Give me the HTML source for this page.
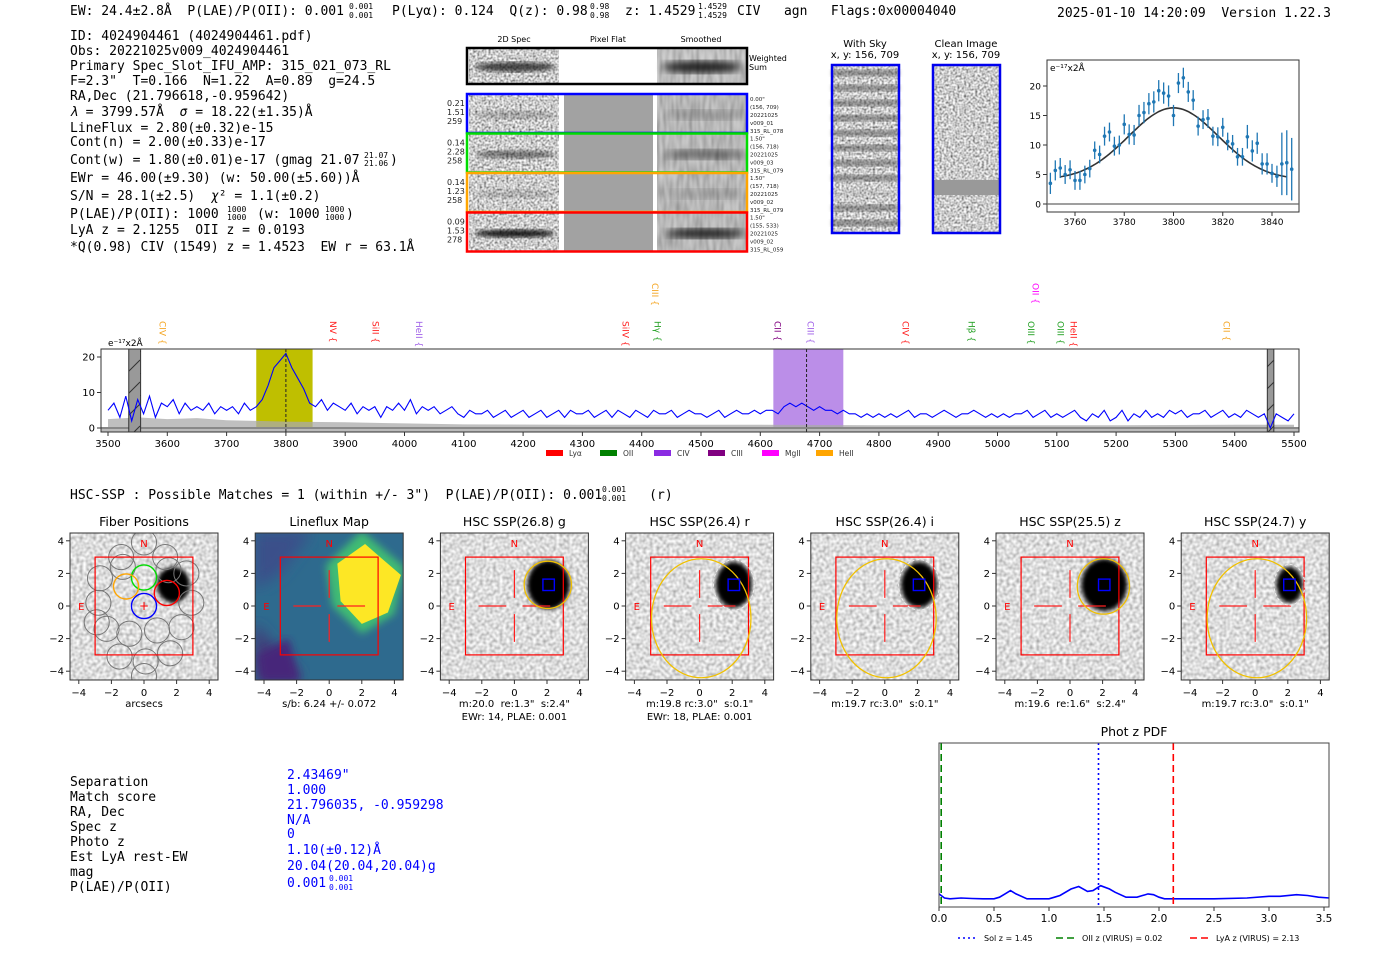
<!DOCTYPE html>
<html><head><meta charset="utf-8">
<style>
html,body{margin:0;padding:0;background:#fff;}
svg{display:block;}
.m{font-family:"DejaVu Sans Mono","Liberation Mono",monospace;font-size:13px;fill:#000;white-space:pre;}
.m.sm{font-size:8px;}
.s{font-family:"DejaVu Sans","Liberation Sans",sans-serif;}
</style></head>
<body>
<svg id="root" width="1400" height="953" viewBox="0 0 1400 953" xmlns="http://www.w3.org/2000/svg" xml:space="preserve">
<defs>
<filter id="nzA" x="0" y="0" width="100%" height="100%"><feTurbulence type="fractalNoise" baseFrequency="0.45" numOctaves="1" seed="4"/><feColorMatrix type="matrix" values="1.6 0 0 0 -0.2  1.6 0 0 0 -0.2  1.6 0 0 0 -0.2  0 0 0 0 1"/></filter>
<filter id="nzB" x="0" y="0" width="100%" height="100%"><feTurbulence type="fractalNoise" baseFrequency="0.3" numOctaves="1" seed="9"/><feColorMatrix type="matrix" values="1.0 0 0 0 0.22  1.0 0 0 0 0.22  1.0 0 0 0 0.22  0 0 0 0 1"/></filter>
<filter id="nzC" x="0" y="0" width="100%" height="100%"><feTurbulence type="fractalNoise" baseFrequency="0.3 0.06" numOctaves="1" seed="2"/><feColorMatrix type="matrix" values="1.0 0 0 0 0.05  1.0 0 0 0 0.05  1.0 0 0 0 0.05  0 0 0 0 1"/></filter>
<filter id="bl4"><feGaussianBlur stdDeviation="4"/></filter>
<filter id="bl2"><feGaussianBlur stdDeviation="2"/></filter>
<filter id="bl8"><feGaussianBlur stdDeviation="7"/></filter>
<pattern id="hatch" width="14" height="22" patternUnits="userSpaceOnUse"><rect width="14" height="22" fill="#999"/><line x1="0" y1="22" x2="14" y2="8" stroke="#333" stroke-width="1"/></pattern>
</defs>

<g>
<text class="m" x="70" y="15">EW: 24.4±2.8Å  P(LAE)/P(OII): 0.001</text>
<text class="m sm" x="349" y="9">0.001</text><text class="m sm" x="349" y="18">0.001</text>
<text class="m" x="392" y="15">P(Lyα): 0.124  Q(z): 0.98</text>
<text class="m sm" x="590" y="9">0.98</text><text class="m sm" x="590" y="18">0.98</text>
<text class="m" x="625" y="15">z: 1.4529</text>
<text class="m sm" x="698" y="9">1.4529</text><text class="m sm" x="698" y="18">1.4529</text>
<text class="m" x="737" y="15">CIV   agn   Flags:0x00004040</text>
<text class="m" x="1057" y="17">2025-01-10 14:20:09  Version 1.22.3</text>
</g>

<g>
<text class="m" x="70" y="40">ID: 4024904461 (4024904461.pdf)</text>
<text class="m" x="70" y="55">Obs: 20221025v009_4024904461</text>
<text class="m" x="70" y="70">Primary Spec_Slot_IFU_AMP: 315_021_073_RL</text>
<text class="m" x="70" y="85">F=2.3"  T=0.166  N=1.22  A=0.89  g=24.5</text>
<text class="m" x="70" y="100">RA,Dec (21.796618,-0.959642)</text>
<text class="m" x="70" y="116"><tspan font-style="italic">λ</tspan> = 3799.57Å  <tspan font-style="italic">σ</tspan> = 18.22(±1.35)Å</text>
<text class="m" x="70" y="132">LineFlux = 2.80(±0.32)e-15</text>
<text class="m" x="70" y="146">Cont(n) = 2.00(±0.33)e-17</text>
<text class="m" x="70" y="164">Cont(w) = 1.80(±0.01)e-17 (gmag 21.07</text>
<text class="m sm" x="364" y="158">21.07</text><text class="m sm" x="364" y="166">21.06</text><text class="m" x="390" y="164">)</text>
<text class="m" x="70" y="182">EWr = 46.00(±9.30) (w: 50.00(±5.60))Å</text>
<text class="m" x="70" y="200">S/N = 28.1(±2.5)  <tspan font-style="italic">χ</tspan>² = 1.1(±0.2)</text>
<text class="m" x="70" y="218">P(LAE)/P(OII): 1000</text>
<text class="m sm" x="227" y="212">1000</text><text class="m sm" x="227" y="220">1000</text>
<text class="m" x="257" y="218">(w: 1000</text>
<text class="m sm" x="325" y="212">1000</text><text class="m sm" x="325" y="220">1000</text>
<text class="m" x="346" y="218">)</text>
<text class="m" x="70" y="234">LyA z = 2.1255  OII z = 0.0193</text>
<text class="m" x="70" y="251">*Q(0.98) CIV (1549) z = 1.4523  EW r = 63.1Å</text>
</g>

<g class="s" font-size="8">
<text x="514" y="42" text-anchor="middle">2D Spec</text>
<text x="608" y="42" text-anchor="middle">Pixel Flat</text>
<text x="701" y="42" text-anchor="middle">Smoothed</text>
<g>
<rect x="469" y="49" width="90" height="34" fill="#aaa" filter="url(#nzA)"/>
<ellipse cx="515" cy="67" rx="40" ry="5" fill="#111" opacity="0.7" filter="url(#bl2)"/>
<rect x="657" y="49" width="89" height="34" fill="#999" filter="url(#nzC)"/>
<rect x="657" y="49" width="89" height="34" fill="#b8b8b8" opacity="0.5"/>
<ellipse cx="702" cy="67" rx="40" ry="6" fill="#000" opacity="0.85" filter="url(#bl4)"/>
<rect x="467" y="48" width="280" height="36" fill="none" stroke="#000" stroke-width="2.5"/>
<text x="749" y="61">Weighted</text><text x="749" y="70">Sum</text>
</g>
</g>
<g id="rows"></g>

<g class="s">
<text x="865" y="47" text-anchor="middle" font-size="10">With Sky</text>
<text x="865" y="58" text-anchor="middle" font-size="10">x, y: 156, 709</text>
<rect x="832" y="65" width="67" height="168" fill="#bbb" filter="url(#nzA)"/>
<g id="skybands"></g>
<rect x="832" y="65" width="67" height="168" fill="none" stroke="#0000ee" stroke-width="2.5"/>
</g>
<g class="s">
<text x="966" y="47" text-anchor="middle" font-size="10">Clean Image</text>
<text x="966" y="58" text-anchor="middle" font-size="10">x, y: 156, 709</text>
<rect x="933" y="65" width="67" height="168" fill="#999" filter="url(#nzA)"/>
<rect x="933" y="180" width="67" height="15" fill="#999"/>
<rect x="933" y="65" width="67" height="168" fill="none" stroke="#0000ee" stroke-width="2.5"/>
</g>

<g id="mini"></g>
<g id="spec"></g>

<text class="m" x="70" y="499">HSC-SSP : Possible Matches = 1 (within +/- 3")  P(LAE)/P(OII): 0.001      (r)</text>
<text class="m sm" x="602" y="492">0.001</text><text class="m sm" x="602" y="501">0.001</text>

<g id="cut"></g>

<g>
<text class="m" x="70" y="786">Separation</text>
<text class="m" x="70" y="801">Match score</text>
<text class="m" x="70" y="816">RA, Dec</text>
<text class="m" x="70" y="831">Spec z</text>
<text class="m" x="70" y="846">Photo z</text>
<text class="m" x="70" y="861">Est LyA rest-EW</text>
<text class="m" x="70" y="876">mag</text>
<text class="m" x="70" y="891">P(LAE)/P(OII)</text>
<text class="m" style="fill:#0000ff" x="287" y="779">2.43469"</text>
<text class="m" style="fill:#0000ff" x="287" y="794">1.000</text>
<text class="m" style="fill:#0000ff" x="287" y="809">21.796035, -0.959298</text>
<text class="m" style="fill:#0000ff" x="287" y="824">N/A</text>
<text class="m" style="fill:#0000ff" x="287" y="838">0</text>
<text class="m" style="fill:#0000ff" x="287" y="854">1.10(±0.12)Å</text>
<text class="m" style="fill:#0000ff" x="287" y="870">20.04(20.04,20.04)g</text>
<text class="m" style="fill:#0000ff" x="287" y="887">0.001</text>
<text class="m sm" style="fill:#0000ff" x="329" y="881">0.001</text>
<text class="m sm" style="fill:#0000ff" x="329" y="890">0.001</text>
</g>

<g id="pdf"></g>
</svg>

<script>
// ---------- data ----------
const specWave0 = 3500, specStep = 10;
const specFlux = [5,7,3,9,2,8,4,9,3,7, 6,8,4,7,5,6,5,7,4,6, 5,6,4,7,5,6,8,12,17,19,
 21,17,14,11,7,6,8,5,7,6, 5,7,4,6,5,6,3,6,5,7, 5,8,4,6,5,6,4,5,6,4,
 3,5,4,4,5,3,4,5,3,4, 5,3,4,5,3,4,5,3,5,4, 4,5,3,4,5,3,5,4,3,5,
 4,3,5,4,4,5,3,4,5,4, 4,3,4,5,3,4,5,4,4,5, 4,5,5,4,6,7,6,7,6,5,
 6,5,5,4,5,4,4,3,4,3, 4,3,4,3,4,5,3,4,4,3, 4,5,4,3,4,4,5,4,3,4,
 3,4,3,4,4,5,3,4,5,3, 4,3,4,5,3,2,4,3,5,2, 3,5,2,4,3,5,3,4,3,5,
 4,5,3,4,4,5,3,4,5,3, 4,3,5,4,3,4,0,4,3,2, 4];
const noiseWave = [3500,3550,3600,3650,3700,3750,3800,3900,4000,4100,4300,4600,4800,5000,5200,5400,5500];
const noiseFlux = [2.5,3.0,2.5,2.8,2.2,2.0,1.8,1.6,1.3,1.0,0.9,0.9,0.8,0.8,0.8,0.9,0.9];
const specXTicks = [3500,3600,3700,3800,3900,4000,4100,4200,4300,4400,4500,4600,4700,4800,4900,5000,5100,5200,5300,5400,5500];
const specYTicks = [0,10,20];
const lineNames = ["CIV","NV","SiII","HeII","CIII","SiIV","Hγ","CII","CIII","CIV","Hβ","OII","OIII","OIII","HeII","CII"];
const lineWaves = [3591,3879,3950,4024,4422,4372,4426,4628,4684,4844,4955,5063,5056,5105,5127,5385];
const lineColors = ["#f5a623","#ff2020","#ff2020","#a060e8","#f5a623","#ff2020","#22a022","#800080","#a060e8","#ff2020","#22a022","#ff00ff","#22a022","#22a022","#ff2020","#f5a623"];
const lineHigh = [0,0,0,0,1,0,0,0,0,0,0,1,0,0,0,0];
const legendNames = ["Lyα","OII","CIV","CIII","MgII","HeII"];
const legendColors = ["#ff0000","#008000","#8a2be2","#800080","#ff00ff","#ffa500"];

const fitWave = [3750,3752,3754,3756,3758,3760,3762,3764,3766,3768,3770,3772,3774,3776,3778,3780,3782,3784,3786,3788,3790,3792,3794,3796,3798,3800,3802,3804,3806,3808,3810,3812,3814,3816,3818,3820,3822,3824,3826,3828,3830,3832,3834,3836,3838,3840,3842,3844,3846,3848];
const fitFlux = [3.5,5.7,6.1,5.0,5.8,4.0,4.0,5.0,6.0,9.1,8.4,11.5,12.2,9.8,10.0,13.5,11.8,11.7,15.0,15.5,17.0,17.3,19.2,18.8,18.3,15.0,20.5,21.4,19.0,17.6,13.2,14.3,14.5,11.5,11.4,13.0,10.6,10.2,8.0,8.0,11.4,9.0,10.3,6.8,6.8,5.2,4.7,6.8,7.0,5.9];
const fitErr = [1.8,1.7,1.7,1.6,1.6,1.6,1.6,1.5,1.5,1.5,1.5,1.6,1.6,1.6,1.6,1.7,1.7,1.7,1.8,1.8,1.8,1.8,1.8,1.8,1.8,1.8,1.7,1.7,1.7,1.7,1.6,1.6,1.6,1.6,1.6,1.6,1.5,1.5,1.5,1.5,2.0,1.8,1.8,1.8,1.8,1.6,1.8,5.3,5.5,5.3];
const fitModel = {center:3800, sigma:18.2, amp:12.2, base:4.1};
const fitXTicks = [3760,3780,3800,3820,3840];
const fitYTicks = [0,5,10,15,20];

const pdfZ = [0,0.05,0.1,0.2,0.3,0.4,0.5,0.55,0.6,0.65,0.7,0.8,0.9,1.0,1.05,1.1,1.2,1.27,1.35,1.4,1.47,1.55,1.6,1.7,1.8,1.9,1.95,2.0,2.05,2.2,2.5,2.8,3.0,3.1,3.25,3.35,3.45,3.55];
const pdfVal = [8,5.5,5,5.5,5.2,5,5,6,8,10,8,5,5,5,6,7,11,12.5,9.5,10,13,11,9,6,6,8,7.5,6,5,5,5,5.5,6.5,6.5,7.5,7,6,5.5];
const pdfXTicks = [0.0,0.5,1.0,1.5,2.0,2.5,3.0,3.5];
const pdfLineZ = [1.45,0.02,2.13];
const pdfLineColor = ["#0000ff","#008000","#ff0000"];
const pdfLineDash = ["2,3","7,4","7,4"];
const pdfLegend = ["Sol z = 1.45","OII z (VIRUS) = 0.02","LyA z (VIRUS) = 2.13"];

const cutTitles = ["Fiber Positions","Lineflux Map","HSC SSP(26.8) g","HSC SSP(26.4) r","HSC SSP(26.4) i","HSC SSP(25.5) z","HSC SSP(24.7) y"];
const cutCap1 = ["arcsecs","s/b: 6.24 +/- 0.072",'m:20.0  re:1.3"  s:2.4"','m:19.8 rc:3.0"  s:0.1"','m:19.7 rc:3.0"  s:0.1"','m:19.6  re:1.6"  s:2.4"','m:19.7 rc:3.0"  s:0.1"'];
const cutCap2 = ["","","EWr: 14, PLAE: 0.001","EWr: 18, PLAE: 0.001","","",""];
const cutTicks = [-4,-2,0,2,4];
const fiberXs = [0,-1.4,1.3,-2.7,2.6,-2.8,2.9,-2.3,-0.9,0.8,2.3,-1.5,0.1,1.6,-2.9,0.0,-1.3,1.5];
const fiberYs = [3.9,3.0,3.0,1.7,2.0,0.2,0.2,-1.4,-1.7,-1.5,-1.3,-3.1,-3.4,-2.9,-1.0,-4.3,2.4,2.2];
const colFiberX = [0,0,-1.1,1.4];
const colFiberY = [0,1.75,1.2,0.8];
const colFiberC = ["#0000ff","#00dd00","#ffa500","#ff0000"];

// ---------- helpers ----------
const NS = 'http://www.w3.org/2000/svg';
function mk(tag, attrs, parent){ const e=document.createElementNS(NS,tag); for(const k in attrs) e.setAttribute(k,attrs[k]); parent.appendChild(e); return e; }
function txt(s, attrs, parent){ const e=mk('text', attrs, parent); e.textContent=s; return e; }

// ---------- fiber rows ----------
const rows = document.getElementById('rows');
const rowColors = ["#0000ff","#00dd00","#ffa500","#ff0000"];
const rowVals = [["0.21","1.51","259"],["0.14","2.28","258"],["0.14","1.23","258"],["0.09","1.53","278"]];
const rowInfo = [['0.00"',"(156, 709)","20221025","v009_01","315_RL_078"],['1.50"',"(156, 718)","20221025","v009_03","315_RL_079"],['1.50"',"(157, 718)","20221025","v009_02","315_RL_079"],['1.50"',"(155, 533)","20221025","v009_02","315_RL_059"]];
const rowBand = [0.2,0.45,0.15,0.85];
rowColors.forEach((c,i)=>{
  const y0 = 94 + i*39.5;
  const g = mk('g',{},rows);
  
  
  mk('rect',{x:469,y:y0+1,width:90,height:37,fill:'#aaa',filter:'url(#nzA)'},g);
  mk('ellipse',{cx:515,cy:y0+21,rx:40,ry:4,fill:'#000',opacity:rowBand[i],filter:'url(#bl2)'},g);
  mk('rect',{x:564,y:y0+1,width:89,height:37,fill:'#a2a2a2'},g);
  mk('rect',{x:657,y:y0+1,width:89,height:37,fill:'#8a8a8a',filter:'url(#nzC)'},g);
  mk('rect',{x:657,y:y0+1,width:89,height:37,fill:'#aaa',opacity:0.5},g);
  mk('ellipse',{cx:705,cy:y0+21,rx:40,ry:5,fill:'#000',opacity:rowBand[i],filter:'url(#bl4)'},g);
  mk('rect',{x:467,y:y0,width:280,height:39,fill:'none',stroke:c,'stroke-width':2.5},g);
  rowVals[i].forEach((v,j)=>txt(v,{x:447,y:y0+12+j*9,'font-size':8,'font-family':'DejaVu Sans, sans-serif',fill:'#222'},g));
  rowInfo[i].forEach((v,j)=>txt(v,{x:750,y:y0+7+j*8,'font-size':5.5,'font-family':'DejaVu Sans, sans-serif',fill:'#222'},g));
});
const sky = document.getElementById('skybands');
for(let k=0;k<11;k++){
  const b = mk('rect',{x:832,y:70+k*15,width:67,height:6,fill:'#444',opacity:k===8?0.1:0.55,filter:'url(#bl2)'},sky);
  
  
}

// ---------- mini fit plot ----------
const mini = document.getElementById('mini');
const mx = w => 1075 + (w-3760)*2.4625;
const my = v => 204 - v*5.9;
mk('rect',{x:1047,y:60,width:252,height:152,fill:'#fff',stroke:'#333','stroke-width':1},mini);
mk('line',{x1:1047,x2:1299,y1:my(0),y2:my(0),stroke:'#666','stroke-width':1.2},mini);
fitYTicks.forEach(t=>{
  mk('line',{x1:1043,x2:1047,y1:my(t),y2:my(t),stroke:'#333'},mini);
  const e=txt(String(t),{x:1041,y:my(t)+3.5,'text-anchor':'end','font-size':9,'font-family':'DejaVu Sans, sans-serif'},mini);
  
  
});
fitXTicks.forEach(t=>{
  mk('line',{x1:mx(t),x2:mx(t),y1:212,y2:216,stroke:'#333'},mini);
  const e=txt(String(t),{x:mx(t),y:225,'text-anchor':'middle','font-size':9,'font-family':'DejaVu Sans, sans-serif'},mini);
  
  
});
txt('e⁻¹⁷x2Å',{x:1050,y:71,'font-size':9,'font-family':'DejaVu Sans, sans-serif'},mini);
let mpath='';
for(let w=3754; w<=3846; w+=1){
  const v = fitModel.base + fitModel.amp*Math.exp(-0.5*Math.pow((w-fitModel.center)/fitModel.sigma,2));
  mpath += (w===3754?'M':'L')+mx(w).toFixed(1)+','+my(v).toFixed(1);
}
const mfit = mk('path',{d:mpath,fill:'none',stroke:'#333','stroke-width':1.6},mini);


fitWave.forEach((w,i)=>{
  const eb = mk('line',{x1:mx(w),x2:mx(w),y1:my(fitFlux[i]+fitErr[i]),y2:my(fitFlux[i]-fitErr[i]),stroke:'#1f77b4','stroke-width':1.3},mini);
  
  
  const p = mk('circle',{cx:mx(w),cy:my(fitFlux[i]),r:1.8,fill:'#1f77b4'},mini);
  
  
});

// ---------- full spectrum ----------
const spec = document.getElementById('spec');
const sx = w => 108 + (w-3500)*0.593;
const sy = v => 428 - v*3.55;
mk('rect',{x:101,y:349,width:1198,height:83,fill:'#fff'},spec);
const hl1 = mk('rect',{x:sx(3750),y:349,width:sx(3845)-sx(3750),height:83,fill:'#bfbf00'},spec);


const hl2 = mk('rect',{x:sx(4622),y:349,width:sx(4740)-sx(4622),height:83,fill:'#bb8ee8'},spec);


let np='M'+sx(noiseWave[0])+','+sy(0);
noiseWave.forEach((w,i)=>{ np+='L'+sx(w).toFixed(1)+','+sy(noiseFlux[i]).toFixed(1); });
np+='L'+sx(5500)+','+sy(0)+'Z';
const na = mk('path',{d:np,fill:'#aaa',opacity:0.75},spec);


mk('rect',{x:101,y:sy(0)-1,width:1198,height:5,fill:'#bbb'},spec);
mk('line',{x1:101,x2:1299,y1:sy(0),y2:sy(0),stroke:'#555','stroke-width':1},spec);
const h1 = mk('rect',{x:sx(3535),y:349,width:sx(3555)-sx(3535),height:83,fill:'url(#hatch)',stroke:'#333','stroke-width':1},spec);


const h2 = mk('rect',{x:sx(5455),y:349,width:sx(5466)-sx(5455),height:83,fill:'url(#hatch)',stroke:'#333','stroke-width':1},spec);


let sp='';
specFlux.forEach((v,i)=>{ const w=specWave0+i*specStep; sp+=(i?'L':'M')+sx(w).toFixed(1)+','+sy(v).toFixed(1); });
const sl = mk('path',{d:sp,fill:'none',stroke:'#0000ff','stroke-width':1.1},spec);


[3800,4678].forEach(w=>{
  const d = mk('line',{x1:sx(w),x2:sx(w),y1:349,y2:432,stroke:'#222','stroke-dasharray':'3,2','stroke-width':1},spec);
  
  
});
mk('rect',{x:101,y:349,width:1198,height:83,fill:'none',stroke:'#333','stroke-width':1},spec);
specYTicks.forEach(t=>{
  mk('line',{x1:97,x2:101,y1:sy(t),y2:sy(t),stroke:'#333'},spec);
  const e=txt(String(t),{x:95,y:sy(t)+3.5,'text-anchor':'end','font-size':10,'font-family':'DejaVu Sans, sans-serif'},spec);
  
  
});
specXTicks.forEach(t=>{
  mk('line',{x1:sx(t),x2:sx(t),y1:432,y2:436,stroke:'#333'},spec);
  const e=txt(String(t),{x:sx(t),y:447,'text-anchor':'middle','font-size':10,'font-family':'DejaVu Sans, sans-serif'},spec);
  
  
});
txt('e⁻¹⁷x2Å',{x:108,y:346,'font-size':9,'font-family':'DejaVu Sans, sans-serif'},spec);
lineNames.forEach((n,i)=>{
  const x = sx(lineWaves[i]); const y = lineHigh[i]?283:321;
  const e = txt(n+' {',{x:x,y:y,transform:'rotate(90 '+x+' '+y+')','font-size':9,'font-family':'DejaVu Sans, sans-serif',fill:lineColors[i],'dominant-baseline':'middle'},spec);
  
  
});
legendNames.forEach((n,i)=>{
  const x = 546 + i*54;
  const r = mk('rect',{x:x,y:450,width:17,height:6,fill:legendColors[i]},spec);
  
  
  const t = txt(n,{x:x+23,y:456,'font-size':7.5,'font-family':'DejaVu Sans, sans-serif',fill:'#333'},spec);
  
  
});

// ---------- cutouts ----------
const cut = document.getElementById('cut');
const S = 16.3;
for(let p=0;p<7;p++){
  const x0 = 70 + p*185.2, y0 = 533, cx = x0+74, cy = 606;
  const ax = a => cx + a*S, ay = a => cy - a*S;
  const g = mk('g',{},cut);
  
  
  const clipId = 'clip'+p;
  const cp = mk('clipPath',{id:clipId},g); mk('rect',{x:x0,y:y0,width:148,height:147},cp);
  const ig = mk('g',{'clip-path':'url(#'+clipId+')'},g);
  if(p===1){
    mk('rect',{x:x0,y:y0,width:148,height:147,fill:'#2e6a8e'},ig);
    mk('polygon',{points:[[-4.6,-1.0],[-1.5,-4.6],[-4.6,-4.6]].map(q=>ax(q[0])+','+ay(q[1])).join(' '),fill:'#433a78',filter:'url(#bl8)'},ig);
    mk('polygon',{points:[[-4.6,4.6],[-1,4.6],[-3,2],[-4.6,1]].map(q=>ax(q[0])+','+ay(q[1])).join(' '),fill:'#3b4f8a',filter:'url(#bl8)'},ig);
    mk('polygon',{points:[[-2.5,-2],[-1.8,-4.6],[-4.2,-4.6],[-4.4,-3]].map(q=>ax(q[0])+','+ay(q[1])).join(' '),fill:'#46287a',filter:'url(#bl4)'},ig);
    mk('polygon',{points:[[-0.2,2.5],[2.0,4.6],[4.6,2.4],[4.0,-0.5],[2.0,-1.7],[0.2,0.0]].map(q=>ax(q[0])+','+ay(q[1])).join(' '),fill:'#3fbc73',filter:'url(#bl4)'},ig);
    const yb = mk('polygon',{points:[[0.5,2.6],[2.2,3.8],[4.4,1.9],[3.6,-0.4],[2.0,-1.1],[0.7,0.3]].map(q=>ax(q[0])+','+ay(q[1])).join(' '),fill:'#fde725'},ig);
    
    
  } else {
    mk('rect',{x:x0,y:y0,width:148,height:147,fill:'#ccc',filter:'url(#nzB)'},ig);
    const rx = [1.0,1.3,1.3,1.1,1.1,1.4,0.8][p], ry=[1.1,1.3,1.5,1.4,1.4,1.6,1.1][p];
    const bx = p===0?1.8:2.1;
    const blob = mk('ellipse',{cx:ax(bx),cy:ay(1.3),rx:rx*S,ry:ry*S,fill:'#000',filter:'url(#bl2)'},ig);
    
    
  }
  if(p===0){
    fiberXs.forEach((fx,i)=>{
      const c = mk('circle',{cx:ax(fx),cy:ay(fiberYs[i]),r:0.77*S,fill:'none',stroke:'#777','stroke-width':1},ig);
      
      
    });
    colFiberX.forEach((fx,i)=>{
      const c = mk('circle',{cx:ax(fx),cy:ay(colFiberY[i]),r:0.77*S,fill:'none',stroke:colFiberC[i],'stroke-width':1.4},ig);
      
      
    });
    txt('+',{x:cx,y:cy+4,'text-anchor':'middle','font-size':12,fill:'#ff0000','font-family':'DejaVu Sans, sans-serif'},ig);
  } else {
    [[-2.2,0,-0.5,0],[0.5,0,2.2,0],[0,0.5,0,2.2],[0,-0.5,0,-2.2]].forEach(l=>{
      mk('line',{x1:ax(l[0]),y1:ay(l[1]),x2:ax(l[2]),y2:ay(l[3]),stroke:'#ff2020','stroke-width':1.2},ig);
    });
  }
  mk('rect',{x:ax(-3),y:ay(3),width:6*S,height:6*S,fill:'none',stroke:'#ff0000','stroke-width':1.2},ig);
  if(p>=2){
    if(p===2) mk('circle',{cx:ax(2.05),cy:ay(1.3),r:1.45*S,fill:'none',stroke:'#f0c000','stroke-width':1.3},ig);
    else if(p===5) mk('ellipse',{cx:ax(2.05),cy:ay(1.2),rx:1.6*S,ry:1.7*S,fill:'none',stroke:'#f0c000','stroke-width':1.3},ig);
    else {
      mk('ellipse',{cx:ax(2.1),cy:ay(1.3),rx:(p===6?0.95:1.25)*S,ry:(p===6?1.25:1.55)*S,fill:'none',stroke:'#eee','stroke-width':1,'stroke-dasharray':'3,2'},ig);
      mk('ellipse',{cx:ax(0.1),cy:ay(-0.75),rx:3.05*S,ry:3.65*S,fill:'none',stroke:'#f0c000','stroke-width':1.3},ig);
    }
    const bs = mk('rect',{x:ax(1.75),y:ay(1.65),width:0.7*S,height:0.7*S,fill:'none',stroke:'#0000ff','stroke-width':1.4},ig);
    
    
  }
  txt('N',{x:cx,y:ay(3.85)+4,'text-anchor':'middle','font-size':10,fill:'#ff0000','font-family':'DejaVu Sans, sans-serif'},ig);
  txt('E',{x:ax(-3.85),y:cy+4,'text-anchor':'middle','font-size':10,fill:'#ff0000','font-family':'DejaVu Sans, sans-serif'},ig);
  mk('rect',{x:x0,y:y0,width:148,height:147,fill:'none',stroke:'#333','stroke-width':1},g);
  const tt = txt(cutTitles[p],{x:cx,y:526,'text-anchor':'middle','font-size':12.5,'font-family':'DejaVu Sans, sans-serif'},g);
  
  
  cutTicks.forEach(t=>{
    mk('line',{x1:ax(t),x2:ax(t),y1:680,y2:684,stroke:'#333'},g);
    txt(t<0?'−'+(-t):String(t),{x:ax(t),y:696,'text-anchor':'middle','font-size':10,'font-family':'DejaVu Sans, sans-serif'},g);
    mk('line',{x1:x0-4,x2:x0,y1:ay(t),y2:ay(t),stroke:'#333'},g);
    txt(t<0?'−'+(-t):String(t),{x:x0-6,y:ay(t)+3.5,'text-anchor':'end','font-size':10,'font-family':'DejaVu Sans, sans-serif'},g);
  });
  txt(cutCap1[p],{x:cx,y:707,'text-anchor':'middle','font-size':10,'font-family':'DejaVu Sans, sans-serif',style:'white-space:pre'},g);
  if(cutCap2[p]) txt(cutCap2[p],{x:cx,y:720,'text-anchor':'middle','font-size':10,'font-family':'DejaVu Sans, sans-serif'},g);
}

// ---------- phot z pdf ----------
const pdf = document.getElementById('pdf');
const px = z => 939 + z*110;
const py = v => 907 - v*1.64;
mk('rect',{x:939,y:743,width:390,height:164,fill:'#fff'},pdf);
txt('Phot z PDF',{x:1134,y:736,'text-anchor':'middle','font-size':12.5,'font-family':'DejaVu Sans, sans-serif'},pdf);
let pp='';
pdfZ.forEach((z,i)=>{ pp+=(i?'L':'M')+px(z).toFixed(1)+','+py(pdfVal[i]).toFixed(1); });
const pl = mk('path',{d:pp,fill:'none',stroke:'#0000ff','stroke-width':1.6},pdf);


pdfLineZ.forEach((z,i)=>{
  const l = mk('line',{x1:px(z),x2:px(z),y1:743,y2:907,stroke:pdfLineColor[i],'stroke-width':1.6,'stroke-dasharray':pdfLineDash[i]},pdf);
  
  
});
mk('rect',{x:939,y:743,width:390,height:164,fill:'none',stroke:'#444','stroke-width':1},pdf);
pdfXTicks.forEach(t=>{
  mk('line',{x1:px(t),x2:px(t),y1:907,y2:911,stroke:'#333'},pdf);
  const e = txt(t.toFixed(1),{x:px(t),y:922,'text-anchor':'middle','font-size':10.5,'font-family':'DejaVu Sans, sans-serif'},pdf);
  
  
});
[958,1056,1190].forEach((x,i)=>{
  mk('line',{x1:x,x2:x+20,y1:938,y2:938,stroke:pdfLineColor[i],'stroke-width':1.6,'stroke-dasharray':pdfLineDash[i]},pdf);
  const t = txt(pdfLegend[i],{x:x+26,y:941,'font-size':8,'font-family':'DejaVu Sans, sans-serif'},pdf);
  
  
});
</script>
</body></html>
